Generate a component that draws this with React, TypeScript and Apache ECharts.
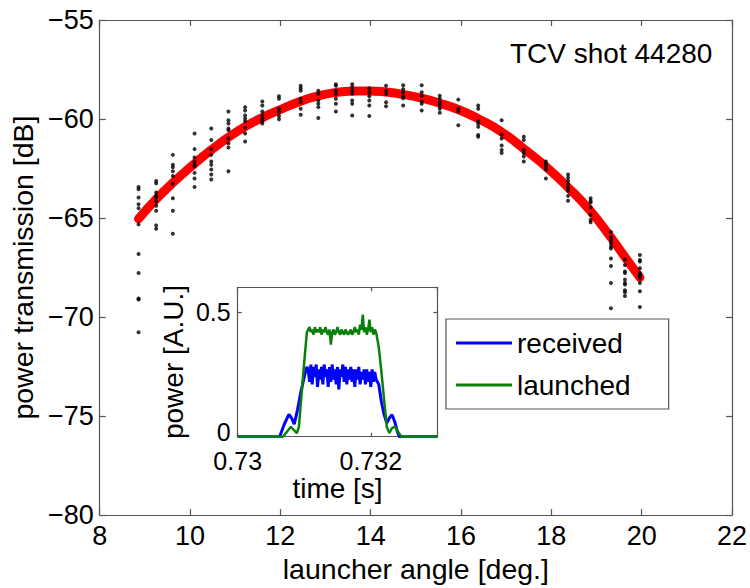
import React, { useEffect, useRef } from "react";
import * as echarts from "echarts";

// ---- main panel: fitted curve ----
const fitAngles = [8.86, 9.25, 9.62, 10.1, 10.47, 10.85, 11.22, 11.6, 11.97, 12.45, 12.84, 13.23, 13.59, 13.97, 14.34, 14.72, 15.13, 15.53, 15.94, 16.38, 16.9, 17.39, 17.88, 18.37, 18.85, 19.31, 19.64, 19.96];
const fitValues = [-65.04, -64.05, -63.22, -62.25, -61.56, -60.92, -60.38, -59.93, -59.55, -59.1, -58.83, -58.66, -58.59, -58.58, -58.64, -58.76, -58.95, -59.2, -59.52, -59.98, -60.65, -61.5, -62.4, -63.45, -64.6, -65.95, -67.0, -68.0];

// ---- main panel: measured points (clusters by launcher angle) ----
const clusterAngles = [8.86, 9.25, 9.62, 10.1, 10.47, 10.85, 11.22, 11.6, 11.97, 12.45, 12.84, 13.23, 13.59, 13.97, 14.34, 14.72, 15.13, 15.53, 15.94, 16.38, 16.9, 17.39, 17.88, 18.37, 18.87, 19.32, 19.63, 19.96];
const clusterValues = [
  [-63.43, -63.55, -63.96, -64.3, -64.51, -65.32, -66.82, -67.78, -69.06, -69.11, -70.77],
  [-63.13, -63.25, -63.71, -63.88, -63.96, -64.16, -64.38, -64.63, -65.37, -65.54],
  [-61.81, -62.31, -62.44, -62.64, -62.88, -63.27, -64.0, -64.63, -65.79],
  [-60.73, -61.52, -61.94, -62.17, -62.31, -62.39, -62.72, -63.0, -63.43],
  [-60.48, -61.06, -61.51, -61.81, -62.14, -62.31, -62.55, -62.8, -63.05],
  [-59.62, -60.06, -60.23, -60.48, -60.56, -60.98, -61.23, -61.44, -62.64],
  [-59.4, -59.57, -59.82, -59.98, -60.11, -60.44, -60.73, -61.14],
  [-59.12, -59.32, -59.62, -59.82, -59.98, -60.11, -60.23],
  [-58.85, -58.98, -59.48, -59.65, -59.85, -60.01],
  [-58.32, -58.45, -58.57, -58.98, -59.15, -59.48, -59.78],
  [-58.57, -58.73, -59.07, -59.23, -59.4, -59.95],
  [-58.24, -58.32, -58.57, -58.73, -58.98, -59.23, -59.62],
  [-58.24, -58.4, -58.57, -58.73, -59.07, -59.23, -59.82],
  [-58.45, -58.65, -58.85, -59.07, -59.32, -59.85],
  [-58.32, -58.57, -58.73, -59.15, -59.35],
  [-58.29, -58.49, -58.65, -58.85, -58.95, -59.32],
  [-58.29, -58.65, -58.82, -59.12, -59.23, -59.57],
  [-58.82, -58.98, -59.15, -59.32, -59.48, -59.68],
  [-59.02, -59.48, -59.62, -60.31],
  [-59.32, -59.48, -60.11, -60.23, -60.39, -60.81, -60.89],
  [-60.06, -60.78, -60.98, -61.34, -61.56, -61.72],
  [-60.89, -61.06, -61.56, -61.72, -61.89, -62.14],
  [-62.14, -62.27, -62.39, -62.55, -63.0],
  [-62.8, -62.97, -63.13, -63.3, -63.47, -63.63, -63.88, -64.13],
  [-64.0, -64.13, -64.21, -64.46, -64.83, -65.1, -65.21],
  [-65.71, -65.96, -66.12, -66.29, -66.45, -66.54, -67.04, -67.42, -68.28, -69.56],
  [-67.09, -67.37, -67.7, -67.78, -68.11, -68.28, -68.36, -68.65, -68.75, -68.94],
  [-66.87, -67.12, -67.2, -67.53, -67.78, -67.86, -67.95, -68.03, -68.28, -68.7, -69.49],
];

// ---- inset: power traces ----
const plateauTime = [0.73106, 0.73108, 0.7311, 0.73112, 0.73114, 0.73116, 0.73118, 0.7312, 0.73122, 0.73124, 0.73126, 0.73128, 0.7313, 0.73132, 0.73134, 0.73136, 0.73138, 0.7314, 0.73142, 0.73144, 0.73146, 0.73148, 0.7315, 0.73152, 0.73154, 0.73156, 0.73158, 0.7316, 0.73162, 0.73164, 0.73166, 0.73168, 0.7317, 0.73172, 0.73174, 0.73176, 0.73178, 0.7318, 0.73182, 0.73184, 0.73186, 0.73188, 0.7319, 0.73192, 0.73194, 0.73196, 0.73198, 0.732, 0.73202, 0.73204, 0.73206, 0.73208];

const receivedRiseTime = [0.73, 0.73063, 0.7307, 0.73077, 0.73081, 0.73085, 0.7309, 0.73095, 0.731, 0.73104];
const receivedRisePower = [0, 0, 0.05, 0.09, 0.075, 0.05, 0.11, 0.18, 0.24, 0.28];
const receivedPlateau = [0.27, 0.22, 0.29, 0.21, 0.28, 0.24, 0.29, 0.2, 0.27, 0.23, 0.28, 0.21, 0.29, 0.24, 0.27, 0.2, 0.28, 0.22, 0.29, 0.23, 0.27, 0.21, 0.28, 0.19, 0.27, 0.24, 0.29, 0.22, 0.28, 0.21, 0.27, 0.23, 0.28, 0.22, 0.27, 0.2, 0.27, 0.23, 0.28, 0.21, 0.26, 0.23, 0.27, 0.21, 0.27, 0.22, 0.26, 0.2, 0.27, 0.22, 0.26, 0.23];
const receivedFallTime = [0.73212, 0.73216, 0.7322, 0.73224, 0.73228, 0.73232, 0.73236, 0.7324, 0.73243, 0.733];
const receivedFallPower = [0.21, 0.14, 0.09, 0.055, 0.075, 0.088, 0.06, 0.02, 0, 0];

const launchedRiseTime = [0.73, 0.73068, 0.73074, 0.7308, 0.73085, 0.73089, 0.73092, 0.73096, 0.731, 0.73104];
const launchedRisePower = [0, 0, 0.02, 0.04, 0.025, 0.014, 0.04, 0.17, 0.3, 0.42];
const launchedPlateau = [0.43, 0.44, 0.42, 0.43, 0.41, 0.44, 0.42, 0.43, 0.42, 0.44, 0.41, 0.43, 0.42, 0.44, 0.42, 0.41, 0.43, 0.37, 0.42, 0.43, 0.41, 0.42, 0.44, 0.42, 0.41, 0.43, 0.42, 0.41, 0.43, 0.42, 0.41, 0.42, 0.43, 0.41, 0.42, 0.44, 0.42, 0.43, 0.41, 0.45, 0.43, 0.49, 0.42, 0.44, 0.41, 0.43, 0.47, 0.42, 0.44, 0.41, 0.43, 0.42];
const launchedFallTime = [0.73212, 0.73216, 0.7322, 0.73224, 0.73228, 0.73232, 0.73237, 0.73241, 0.73246, 0.733];
const launchedFallPower = [0.36, 0.26, 0.15, 0.04, 0.015, 0.035, 0.04, 0.02, 0, 0];

// ---- ticks / labels ----
const mainXTicks = { min: 8, max: 22, interval: 2 };
const mainYTicks = { min: -80, max: -55, interval: 5 };
const insetXTicks = { min: 0.73, max: 0.733, interval: 0.002 };
const insetYTicks = { min: 0, max: 0.6, interval: 0.5 };
const titleText = "TCV shot 44280";
const seriesNames = ["received", "launched"];

const FONT = "'Liberation Sans', Arial, Helvetica, sans-serif";
const AXIS_COLOR = "#555";

function pairs(t: number[], v: number[]) {
  return t.map((x, i) => [x, v[i]]);
}

function axisBase(extra: any) {
  return {
    type: "value",
    axisLine: { show: true, onZero: false, lineStyle: { color: AXIS_COLOR, width: 1.2 } },
    axisTick: { show: true, inside: true, length: 6, lineStyle: { color: AXIS_COLOR, width: 1.2 } },
    splitLine: { show: false },
    ...extra,
  };
}

export default function App() {
  const ref = useRef<HTMLDivElement>(null);
  useEffect(() => {
    if (!ref.current) return;
    const chart = echarts.init(ref.current, undefined, { renderer: "svg" });

    const scatterData: number[][] = [];
    clusterAngles.forEach((a, i) => {
      clusterValues[i].forEach((v) => scatterData.push([a, v]));
    });

    const received = [
      ...pairs(receivedRiseTime, receivedRisePower),
      ...pairs(plateauTime, receivedPlateau),
      ...pairs(receivedFallTime, receivedFallPower),
    ];
    const launched = [
      ...pairs(launchedRiseTime, launchedRisePower),
      ...pairs(plateauTime, launchedPlateau),
      ...pairs(launchedFallTime, launchedFallPower),
    ];

    const labelStyle = { fontSize: 27, color: "#000", fontFamily: FONT };
    const nameStyle = { fontSize: 28.5, color: "#000", fontFamily: FONT };
    const insetLabel = { fontSize: 25, color: "#000", fontFamily: FONT, lineHeight: 20 };
    const minusFmt = (v: number) => (v < 0 ? "\u2212" + Math.abs(v) : String(v));
    const insetYFmt = (v: number) => (v === 0 ? "{z|0}" : String(v));
    const insetTick = { show: true, inside: true, length: 4, lineStyle: { color: AXIS_COLOR, width: 1.2 } };

    const option: any = {
      animation: false,
      textStyle: { fontFamily: FONT },
      grid: [
        { left: 99.5, right: 17.3, top: 20, bottom: 66 },
        { left: 237.7, right: 312.7, top: 287.3, bottom: 151.3, show: true, backgroundColor: "#fff", borderWidth: 0 },
      ],
      xAxis: [
        axisBase({
          gridIndex: 0, position: "bottom", ...mainXTicks,
          axisLabel: { ...labelStyle, margin: 7 },
          name: "launcher angle [deg.]", nameLocation: "middle", nameGap: 30,
          nameTextStyle: nameStyle,
        }),
        axisBase({ gridIndex: 0, position: "top", ...mainXTicks, axisLabel: { show: false } }),
        axisBase({
          gridIndex: 1, position: "bottom", ...insetXTicks,
          axisTick: insetTick,
          axisLabel: { ...insetLabel, margin: 14, showMaxLabel: false },
          name: "time [s]", nameLocation: "middle", nameGap: 37,
          nameTextStyle: { ...nameStyle, fontSize: 28 },
        }),
        axisBase({
          gridIndex: 1, position: "top", ...insetXTicks,
          axisTick: insetTick,
          axisLabel: { show: false },
        }),
      ],
      yAxis: [
        axisBase({
          gridIndex: 0, position: "left", ...mainYTicks,
          axisLabel: { ...labelStyle, margin: 6, formatter: minusFmt },
          name: "power transmission [dB]", nameLocation: "middle", nameGap: 44,
          nameTextStyle: nameStyle,
        }),
        axisBase({ gridIndex: 0, position: "right", ...mainYTicks, axisLabel: { show: false } }),
        axisBase({
          gridIndex: 1, position: "left", ...insetYTicks,
          axisTick: insetTick,
          axisLabel: {
            ...insetLabel, margin: 7, showMaxLabel: false, formatter: insetYFmt,
            rich: { z: { fontSize: 25, color: "#000", fontFamily: FONT, lineHeight: 20, padding: [0, 0, 10, 0] } },
          },
          name: "power [A.U.]", nameLocation: "middle", nameGap: 50,
          nameTextStyle: { ...nameStyle, fontSize: 28 },
        }),
        axisBase({
          gridIndex: 1, position: "right", ...insetYTicks,
          axisTick: insetTick,
          axisLabel: { show: false },
        }),
      ],
      legend: {
        data: seriesNames,
        orient: "vertical",
        left: 446,
        top: 319,
        padding: [10, 38, 10, 10],
        itemGap: 14,
        itemWidth: 56,
        itemHeight: 3,
        icon: "rect",
        backgroundColor: "#fff",
        borderColor: AXIS_COLOR,
        borderWidth: 1.2,
        textStyle: { fontSize: 28, color: "#000", fontFamily: FONT },
      },
      graphic: [
        {
          type: "text",
          left: 510,
          top: 39,
          style: { text: titleText, font: "28px " + FONT, fill: "#000" },
        },
      ],
      series: [
        {
          name: "fit",
          type: "line",
          xAxisIndex: 0,
          yAxisIndex: 0,
          data: pairs(fitAngles, fitValues),
          showSymbol: false,
          smooth: true,
          lineStyle: { color: "#ff0000", width: 9, cap: "round" },
          itemStyle: { color: "#ff0000" },
          z: 2,
        },
        {
          name: "data",
          type: "scatter",
          xAxisIndex: 0,
          yAxisIndex: 0,
          data: scatterData,
          symbolSize: 4,
          itemStyle: { color: "#000" },
          z: 3,
        },
        {
          name: seriesNames[0],
          type: "line",
          xAxisIndex: 2,
          yAxisIndex: 2,
          data: received,
          showSymbol: false,
          lineStyle: { color: "#0000ff", width: 3 },
          itemStyle: { color: "#0000ff" },
          z: 4,
        },
        {
          name: seriesNames[1],
          type: "line",
          xAxisIndex: 2,
          yAxisIndex: 2,
          data: launched,
          showSymbol: false,
          lineStyle: { color: "#0a800a", width: 2.5 },
          itemStyle: { color: "#0a800a" },
          z: 5,
        },
      ],
    };
    chart.setOption(option);
    return () => chart.dispose();
  }, []);

  return (
    <div
      ref={ref}
      style={{ position: "fixed", left: 0, top: 0, width: 750, height: 588, background: "#fff" }}
    />
  );
}
